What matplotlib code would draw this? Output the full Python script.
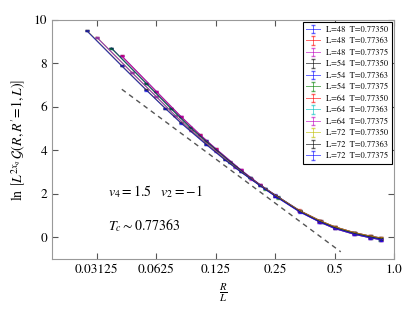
import numpy as np
import matplotlib
matplotlib.use("Agg")
import matplotlib.pyplot as plt

plt.rcParams['font.family'] = ['STIXGeneral', 'DejaVu Serif']
plt.rcParams['mathtext.fontset'] = 'stix'

# R values (distance) for each lattice size L
R_48 = [2, 3, 4, 5, 6, 8, 10, 12, 16, 20, 24, 30, 36, 41]
R_54 = [2, 3, 4, 5, 6, 8, 10, 12, 14, 18, 23, 27, 34, 41, 46]
R_64 = [2, 3, 4, 5, 6, 8, 10, 12, 16, 21, 27, 32, 40, 48, 55]
R_72 = [2, 3, 4, 5, 6, 8, 10, 12, 15, 18, 24, 30, 36, 45, 54, 62]

# ln[L^{2x_q} G], one list per (L, T)
y_48_77350 = [8.36, 6.72, 5.56, 4.72, 4.08, 3.12, 2.44, 1.95, 1.22, 0.78, 0.48, 0.22, 0.06, -0.03]
y_48_77363 = [8.35, 6.71, 5.55, 4.71, 4.07, 3.11, 2.43, 1.93, 1.19, 0.74, 0.44, 0.18, 0.02, -0.07]
y_48_77375 = [8.34, 6.70, 5.54, 4.70, 4.06, 3.10, 2.42, 1.92, 1.17, 0.71, 0.40, 0.14, -0.02, -0.11]

y_54_77350 = [8.71, 7.09, 5.94, 5.07, 4.44, 3.47, 2.76, 2.24, 1.85, 1.22, 0.74, 0.48, 0.21, 0.05, -0.03]
y_54_77363 = [8.70, 7.08, 5.93, 5.06, 4.43, 3.46, 2.75, 2.23, 1.83, 1.19, 0.70, 0.44, 0.17, 0.01, -0.07]
y_54_77375 = [8.69, 7.07, 5.92, 5.05, 4.42, 3.45, 2.74, 2.22, 1.81, 1.17, 0.67, 0.40, 0.13, -0.03, -0.11]

y_64_77350 = [9.21, 7.60, 6.48, 5.60, 4.93, 3.97, 3.24, 2.70, 1.93, 1.25, 0.76, 0.48, 0.22, 0.06, -0.04]
y_64_77363 = [9.20, 7.59, 6.47, 5.59, 4.92, 3.96, 3.23, 2.69, 1.91, 1.22, 0.72, 0.44, 0.18, 0.02, -0.08]
y_64_77375 = [9.19, 7.58, 6.46, 5.58, 4.91, 3.95, 3.22, 2.68, 1.89, 1.20, 0.69, 0.40, 0.14, -0.02, -0.12]

y_72_77350 = [9.52, 7.91, 6.79, 5.94, 5.27, 4.30, 3.58, 3.03, 2.40, 1.92, 1.21, 0.78, 0.48, 0.22, 0.06, -0.04]
y_72_77363 = [9.51, 7.90, 6.78, 5.93, 5.26, 4.29, 3.57, 3.02, 2.39, 1.90, 1.18, 0.74, 0.44, 0.18, 0.02, -0.08]
y_72_77375 = [9.50, 7.89, 6.77, 5.92, 5.25, 4.28, 3.56, 3.01, 2.38, 1.88, 1.15, 0.71, 0.40, 0.14, -0.02, -0.12]

# dashed guide line (end points)
guia_x = [0.0418, 0.536]
guia_y = [6.81, -0.67]

series = [
    (48, "0.77350", R_48, y_48_77350, 'b'),
    (48, "0.77363", R_48, y_48_77363, 'r'),
    (48, "0.77375", R_48, y_48_77375, 'm'),
    (54, "0.77350", R_54, y_54_77350, 'k'),
    (54, "0.77363", R_54, y_54_77363, 'b'),
    (54, "0.77375", R_54, y_54_77375, 'g'),
    (64, "0.77350", R_64, y_64_77350, 'r'),
    (64, "0.77363", R_64, y_64_77363, 'c'),
    (64, "0.77375", R_64, y_64_77375, 'm'),
    (72, "0.77350", R_72, y_72_77350, 'y'),
    (72, "0.77363", R_72, y_72_77363, 'k'),
    (72, "0.77375", R_72, y_72_77375, 'b'),
]

fig = plt.figure(figsize=(4.15, 3.12), dpi=100)
ax = fig.add_axes([0.125, 0.17, 0.825, 0.766])

for L, T, R, y, c in series:
    x = np.array(R) / L
    err = 0.02 + 0.03 * x
    ax.errorbar(x, y, yerr=err, color=c, lw=0.7, elinewidth=0.7,
                capsize=1.6, alpha=0.6, label=f"L={L}  T={T}")

ax.plot(guia_x, guia_y, ls='--', color='#555555', lw=1.0, dashes=(3.5, 3))

ax.set_xscale('log', base=2)
ax.set_xlim(0.0185, 1.0)
ax.set_ylim(-1, 10)
xt = [0.03125, 0.0625, 0.125, 0.25, 0.5, 1.0]
ax.set_xticks(xt)
ax.set_xticklabels(["0.03125", "0.0625", "0.125", "0.25", "0.5", "1.0"])
ax.xaxis.set_minor_locator(matplotlib.ticker.NullLocator())
ax.set_yticks([0, 2, 4, 6, 8, 10])
ax.tick_params(direction='in', top=True, right=True, length=4, labelsize=9.5, color='#555555')
for s in ax.spines.values():
    s.set_color('#999999')

ax.set_xlabel(r'$\frac{R}{L}$', fontsize=11)
ax.set_ylabel(r'$\ln\,\left[L^{2x_q}\,\mathcal{G}(R,R^{\prime}\!=\!1,L)\right]$', fontsize=10)

ax.text(0.165, 0.28, r'$v_4=1.5\quad v_2=-1$', transform=ax.transAxes, fontsize=10, va='center')
ax.text(0.165, 0.138, r'$T_c\sim0.77363$', transform=ax.transAxes, fontsize=10, va='center')

leg = ax.legend(loc='upper right', fontsize=6, handlelength=1.6, labelspacing=0.42,
                borderaxespad=0.3, fancybox=False, framealpha=1, edgecolor='k')
leg.get_frame().set_linewidth(0.8)

plt.savefig('out.png', dpi=100)
